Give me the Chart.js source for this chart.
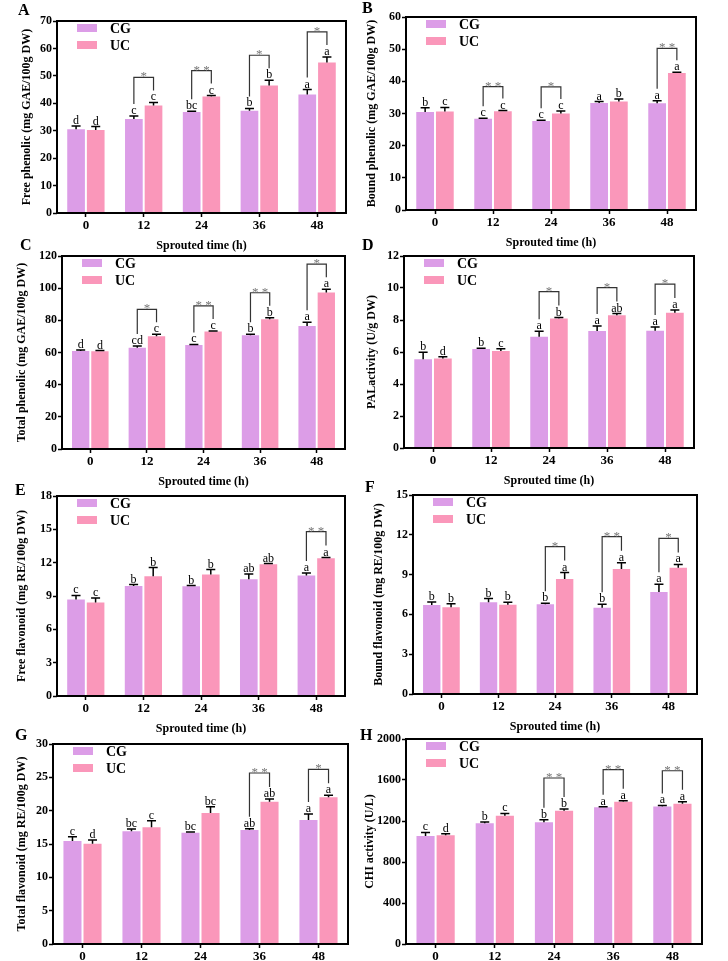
<!DOCTYPE html>
<html>
<head>
<meta charset="utf-8">
<script src="https://cdn.jsdelivr.net/npm/chart.js@4.4.0/dist/chart.umd.min.js"></script>
<style>
  body { margin: 0; background: #fff; width: 728px; height: 961px; position: relative; overflow: hidden; }
  canvas { position: absolute; }
  .lab { position: absolute; font: bold 16px 'Liberation Serif', serif; line-height: 16px; }
</style>
</head>
<body>
<script>
// sprouted time categories
const hours = ['0', '12', '24', '36', '48'];
const groups = ['CG', 'UC'];

// A - free phenolic
const freePhenCG = [30.5, 34.3, 36.8, 37.3, 43.2];
const freePhenCGErr = [1.2, 1.1, 0.3, 0.8, 1.8];
const freePhenUC = [30.3, 39.2, 42.5, 46.5, 54.9];
const freePhenUCErr = [1.2, 1.1, 0.3, 1.9, 2.0];
const freePhenCGLet = ['d', 'c', 'bc', 'b', 'a'];
const freePhenUCLet = ['d', 'c', 'c', 'b', 'a'];
const freePhenSig = ['', '*', '* *', '*', '*'];

// B - bound phenolic
const boundPhenCG = [30.5, 28.4, 27.7, 33.3, 33.2];
const boundPhenCGErr = [1.3, 0.15, 0.2, 0.4, 0.8];
const boundPhenUC = [30.6, 30.7, 30.0, 33.7, 42.6];
const boundPhenUCErr = [1.3, 0.2, 0.8, 0.8, 0.2];
const boundPhenCGLet = ['b', 'c', 'c', 'a', 'a'];
const boundPhenUCLet = ['c', 'c', 'c', 'b', 'a'];
const boundPhenSig = ['', '* *', '*', '', '* *'];

// C - total phenolic
const totPhenCG = [61.0, 62.9, 64.7, 70.7, 76.5];
const totPhenCGErr = [0.6, 1.2, 0.3, 0.6, 2.3];
const totPhenUC = [60.8, 70.1, 73.0, 80.6, 97.3];
const totPhenUCErr = [0.4, 1.2, 0.4, 1.0, 2.1];
const totPhenCGLet = ['d', 'cd', 'c', 'b', 'a'];
const totPhenUCLet = ['d', 'c', 'c', 'b', 'a'];
const totPhenSig = ['', '*', '* *', '* *', '*'];

// D - PAL activity
const palCG = [5.54, 6.19, 6.95, 7.31, 7.33];
const palCGErr = [0.44, 0.05, 0.35, 0.31, 0.23];
const palUC = [5.6, 6.06, 8.1, 8.3, 8.45];
const palUCErr = [0.1, 0.15, 0.05, 0.1, 0.17];
const palCGLet = ['b', 'b', 'a', 'a', 'a'];
const palUCLet = ['d', 'c', 'b', 'ab', 'a'];
const palSig = ['', '', '*', '*', '*'];

// E - free flavonoid
const freeFlavCG = [8.69, 9.91, 9.88, 10.51, 10.84];
const freeFlavCGErr = [0.36, 0.12, 0.06, 0.48, 0.24];
const freeFlavUC = [8.42, 10.78, 10.93, 11.86, 12.4];
const freeFlavUCErr = [0.39, 0.78, 0.45, 0.06, 0.06];
const freeFlavCGLet = ['c', 'b', 'b', 'ab', 'a'];
const freeFlavUCLet = ['c', 'b', 'b', 'ab', 'a'];
const freeFlavSig = ['', '', '', '', '* *'];

// F - bound flavonoid
const boundFlavCG = [6.71, 6.91, 6.76, 6.51, 7.69];
const boundFlavCGErr = [0.23, 0.28, 0.08, 0.25, 0.58];
const boundFlavUC = [6.53, 6.73, 8.67, 9.42, 9.52];
const boundFlavUCErr = [0.28, 0.18, 0.48, 0.48, 0.25];
const boundFlavCGLet = ['b', 'b', 'b', 'b', 'a'];
const boundFlavUCLet = ['b', 'b', 'a', 'a', 'a'];
const boundFlavSig = ['', '', '*', '* *', '*'];

// G - total flavonoid
const totFlavCG = [15.45, 16.9, 16.7, 17.1, 18.6];
const totFlavCGErr = [0.65, 0.35, 0.1, 0.2, 0.9];
const totFlavUC = [15.05, 17.5, 19.65, 21.35, 22.0];
const totFlavUCErr = [0.55, 1.0, 0.95, 0.4, 0.3];
const totFlavCGLet = ['c', 'bc', 'bc', 'ab', 'a'];
const totFlavUCLet = ['d', 'c', 'bc', 'ab', 'a'];
const totFlavSig = ['', '', '', '* *', '*'];

// H - CHI activity
const chiCG = [1054, 1177, 1187, 1333, 1342];
const chiCGErr = [35, 13, 26, 5, 10];
const chiUC = [1060, 1252, 1300, 1388, 1369];
const chiUCErr = [16, 22, 17, 10, 19];
const chiCGLet = ['c', 'b', 'b', 'a', 'a'];
const chiUCLet = ['d', 'c', 'b', 'a', 'a'];
const chiSig = ['', '', '* *', '* *', '* *'];

const colCG = '#dc9de7';
const colUC = '#fa97ba';
const serif = "'Liberation Serif', serif";

// plot box L/R/T/B in page pixels, tx = y title centre
const panels = [
  { letter: 'A', lx: 18, ly: 2, x0: 0, L: 57, R: 346, T: 21, B: 213, tx: 27, title: 'Free phenolic (mg GAE/100g DW)', max: 70, step: 10,
    cg: freePhenCG, cgErr: freePhenCGErr, uc: freePhenUC, ucErr: freePhenUCErr, cgLet: freePhenCGLet, ucLet: freePhenUCLet, sig: freePhenSig, gap: 25 },
  { letter: 'B', lx: 362, ly: 0, x0: 364, L: 406, R: 696, T: 17, B: 210, tx: 372, title: 'Bound phenolic (mg GAE/100g DW)', max: 60, step: 10,
    cg: boundPhenCG, cgErr: boundPhenCGErr, uc: boundPhenUC, ucErr: boundPhenUCErr, cgLet: boundPhenCGLet, ucLet: boundPhenUCLet, sig: boundPhenSig, gap: 24 },
  { letter: 'C', lx: 20, ly: 237, x0: 0, L: 62, R: 345, T: 256, B: 449, tx: 22, title: 'Total phenolic (mg GAE/100g DW)', max: 120, step: 20,
    cg: totPhenCG, cgErr: totPhenCGErr, uc: totPhenUC, ucErr: totPhenUCErr, cgLet: totPhenCGLet, ucLet: totPhenUCLet, sig: totPhenSig, gap: 25 },
  { letter: 'D', lx: 362, ly: 237, x0: 364, L: 404, R: 694, T: 256, B: 448, tx: 372, title: 'PALactivity (U/g DW)', max: 12, step: 2,
    cg: palCG, cgErr: palCGErr, uc: palUC, ucErr: palUCErr, cgLet: palCGLet, ucLet: palUCLet, sig: palSig, gap: 26 },
  { letter: 'E', lx: 15, ly: 482, x0: 0, L: 57, R: 345, T: 496, B: 696, tx: 22, title: 'Free flavonoid (mg RE/100g DW)', max: 18, step: 3,
    cg: freeFlavCG, cgErr: freeFlavCGErr, uc: freeFlavUC, ucErr: freeFlavUCErr, cgLet: freeFlavCGLet, ucLet: freeFlavUCLet, sig: freeFlavSig, gap: 26 },
  { letter: 'F', lx: 365, ly: 479, x0: 364, L: 413, R: 697, T: 495, B: 694, tx: 379, title: 'Bound flavonoid (mg RE/100g DW)', max: 15, step: 3,
    cg: boundFlavCG, cgErr: boundFlavCGErr, uc: boundFlavUC, ucErr: boundFlavUCErr, cgLet: boundFlavCGLet, ucLet: boundFlavUCLet, sig: boundFlavSig, gap: 26 },
  { letter: 'G', lx: 15, ly: 727, x0: 0, L: 53, R: 348, T: 744, B: 944, tx: 22, title: 'Total flavonoid (mg RE/100g DW)', max: 30, step: 5,
    cg: totFlavCG, cgErr: totFlavCGErr, uc: totFlavUC, ucErr: totFlavUCErr, cgLet: totFlavCGLet, ucLet: totFlavUCLet, sig: totFlavSig, gap: 26 },
  { letter: 'H', lx: 360, ly: 727, x0: 364, L: 406, R: 702, T: 739, B: 944, tx: 370, title: 'CHI activity (U/L)', max: 2000, step: 400,
    cg: chiCG, cgErr: chiCGErr, uc: chiUC, ucErr: chiUCErr, cgLet: chiCGLet, ucLet: chiUCLet, sig: chiSig, gap: 31 }
];

const marks = {
  id: 'marks',
  afterDatasetsDraw(chart, args, opts) {
    const p = opts.panel;
    const { ctx, chartArea: a, scales: { y } } = chart;
    ctx.save();
    ctx.textAlign = 'center';
    ctx.textBaseline = 'alphabetic';
    // error bars (upper only) and letters
    [0, 1].forEach(di => {
      const vals = di ? p.uc : p.cg, errs = di ? p.ucErr : p.cgErr, lets = di ? p.ucLet : p.cgLet;
      chart.getDatasetMeta(di).data.forEach((bar, i) => {
        const base = y.getPixelForValue(vals[i]);
        const top = y.getPixelForValue(vals[i] + errs[i]);
        ctx.strokeStyle = '#000';
        ctx.lineWidth = 1.5;
        ctx.beginPath();
        ctx.moveTo(bar.x, base); ctx.lineTo(bar.x, top);
        ctx.moveTo(bar.x - 4.5, top); ctx.lineTo(bar.x + 4.5, top);
        ctx.stroke();
        ctx.fillStyle = '#000';
        ctx.font = '12px ' + serif;
        ctx.fillText(lets[i], bar.x, top - 2);
      });
    });
    // significance brackets
    p.sig.forEach((s, i) => {
      if (!s) return;
      const bc = chart.getDatasetMeta(0).data[i], bu = chart.getDatasetMeta(1).data[i];
      const tc = y.getPixelForValue(p.cg[i] + p.cgErr[i]);
      const tu = y.getPixelForValue(p.uc[i] + p.ucErr[i]);
      const hy = Math.min(tc, tu) - p.gap;
      ctx.strokeStyle = '#333';
      ctx.lineWidth = 1.2;
      ctx.beginPath();
      ctx.moveTo(bc.x, tc - 12); ctx.lineTo(bc.x, hy); ctx.lineTo(bu.x, hy); ctx.lineTo(bu.x, tu - 12);
      ctx.stroke();
      ctx.fillStyle = '#777';
      ctx.font = '13px ' + serif;
      ctx.fillText(s, (bc.x + bu.x) / 2, hy + 3);
    });
    // frame
    ctx.strokeStyle = '#000';
    ctx.lineWidth = 2;
    ctx.strokeRect(a.left, a.top, a.right - a.left, a.bottom - a.top);
    // legend inside plot
    ctx.textAlign = 'left';
    ctx.textBaseline = 'middle';
    ctx.font = 'bold 14px ' + serif;
    [colCG, colUC].forEach((c, k) => {
      ctx.fillStyle = c;
      ctx.fillRect(a.left + 20, a.top + 3 + k * 17, 20, 8);
      ctx.fillStyle = '#000';
      ctx.fillText(groups[k], a.left + 53, a.top + 8 + k * 17);
    });
    ctx.restore();
  }
};

panels.forEach(p => {
  const padTop = 20, xH = 40;
  const titleLeft = p.tx - 7.2;
  const yW = p.L - titleLeft;
  const cv = document.createElement('canvas');
  cv.width = 364;
  cv.height = (p.B - p.T) + padTop + xH;
  cv.style.left = p.x0 + 'px';
  cv.style.top = (p.T - padTop) + 'px';
  document.body.appendChild(cv);

  const lab = document.createElement('div');
  lab.className = 'lab';
  lab.textContent = p.letter;
  lab.style.left = p.lx + 'px';
  lab.style.top = p.ly + 'px';
  document.body.appendChild(lab);

  new Chart(cv.getContext('2d'), {
    type: 'bar',
    data: {
      labels: hours,
      datasets: [
        { label: 'CG', data: p.cg, backgroundColor: colCG },
        { label: 'UC', data: p.uc, backgroundColor: colUC }
      ]
    },
    options: {
      responsive: false,
      animation: false,
      devicePixelRatio: 1,
      categoryPercentage: 0.68,
      barPercentage: 0.9,
      layout: { padding: { top: padTop, right: p.x0 + 364 - p.R, left: titleLeft - p.x0, bottom: 0 } },
      plugins: { legend: { display: false }, tooltip: { enabled: false }, marks: { panel: p } },
      scales: {
        x: {
          afterFit: s => { s.height = xH; },
          grid: { offset: false, drawOnChartArea: false, drawTicks: true, tickLength: 4, tickWidth: 1.5, tickColor: '#000' },
          border: { display: false },
          ticks: { color: '#000', padding: 1, font: { family: serif, size: 13, weight: 'bold' } },
          title: { display: true, text: 'Sprouted time (h)', color: '#000', padding: 0, font: { family: serif, size: 12, weight: 'bold' } }
        },
        y: {
          min: 0,
          max: p.max,
          afterFit: s => { s.width = yW; },
          grid: { drawOnChartArea: false, drawTicks: true, tickLength: 4, tickWidth: 1.5, tickColor: '#000' },
          border: { display: false },
          ticks: { stepSize: p.step, color: '#000', padding: 1, callback: v => String(v), font: { family: serif, size: 12, weight: 'bold' } },
          title: { display: true, text: p.title, color: '#000', padding: 0, font: { family: serif, size: 12, weight: 'bold' } }
        }
      }
    },
    plugins: [marks]
  });
});
</script>
</body>
</html>
